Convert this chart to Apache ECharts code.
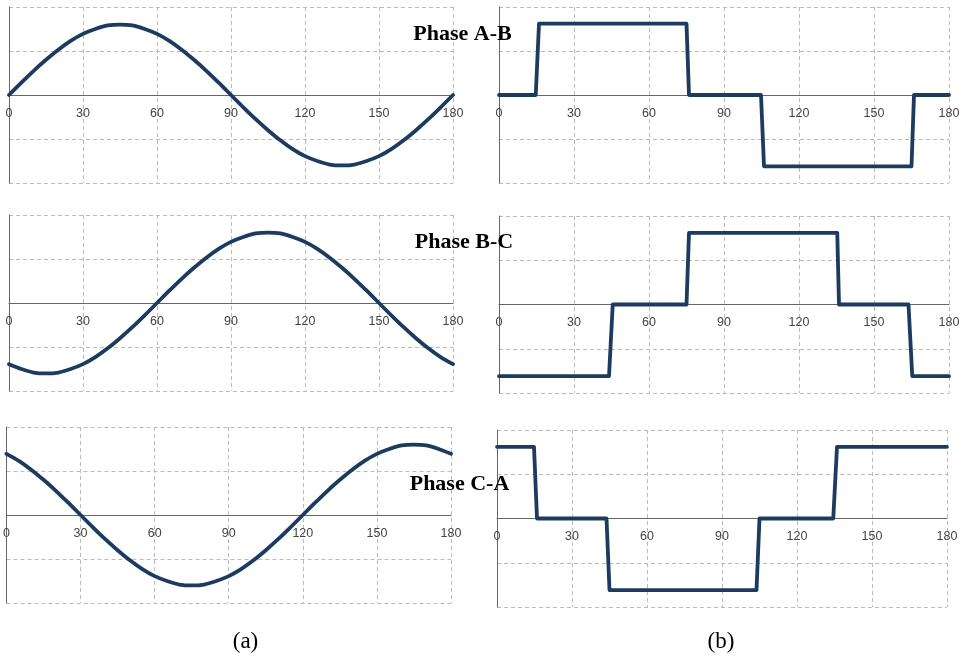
<!DOCTYPE html>
<html>
<head>
<meta charset="utf-8">
<script src="https://cdn.jsdelivr.net/npm/echarts@6/dist/echarts.min.js"></script>
<style>
html,body{margin:0;padding:0;background:#fff;}
#chart{width:967px;height:659px;}
</style>
</head>
<body>
<div id="chart"></div>
<script>
// Angle ticks (degrees)
const xTicks = [0, 30, 60, 90, 120, 150, 180];
// Sampled angles for the sine curves (every 5 degrees)
const sineAngles = [0,5,10,15,20,25,30,35,40,45,50,55,60,65,70,75,80,85,90,95,100,105,110,115,120,125,130,135,140,145,150,155,160,165,170,175,180];

// (a) line voltages
const sineAB = [0,0.28,0.55,0.80,1.03,1.23,1.39,1.50,1.58,1.60,1.58,1.50,1.39,1.23,1.03,0.80,0.55,0.28,0,
  -0.28,-0.55,-0.80,-1.03,-1.23,-1.39,-1.50,-1.58,-1.60,-1.58,-1.50,-1.39,-1.23,-1.03,-0.80,-0.55,-0.28,0];
const sineBC = [-1.39,-1.50,-1.58,-1.60,-1.58,-1.50,-1.39,-1.23,-1.03,-0.80,-0.55,-0.28,0,0.28,0.55,0.80,1.03,1.23,1.39,
  1.50,1.58,1.60,1.58,1.50,1.39,1.23,1.03,0.80,0.55,0.28,0,-0.28,-0.55,-0.80,-1.03,-1.23,-1.39];
const sineCA = [1.39,1.23,1.03,0.80,0.55,0.28,0,-0.28,-0.55,-0.80,-1.03,-1.23,-1.39,-1.50,-1.58,-1.60,-1.58,-1.50,-1.39,
  -1.23,-1.03,-0.80,-0.55,-0.28,0,0.28,0.55,0.80,1.03,1.23,1.39,1.50,1.58,1.60,1.58,1.50,1.39];

// (b) six-step line voltages: [angle, value]
const stepAB = [[0,0],[14.7,0],[16,1.62],[75,1.62],[76,0],[104.8,0],[106,-1.62],[165,-1.62],[166,0],[180,0]];
const stepBC = [[0,-1.62],[44,-1.62],[45.5,0],[75,0],[76,1.62],[135.3,1.62],[136,0],[163.8,0],[165.3,-1.62],[180,-1.62]];
const stepCA = [[0,1.62],[14.8,1.62],[16,0],[43.8,0],[45,-1.62],[103.8,-1.62],[105,0],[134.5,0],[136,1.62],[180,1.62]];

const phaseTitles = ['Phase A-B', 'Phase B-C', 'Phase C-A'];
const panelLabels = ['(a)', '(b)'];

const LINE = '#1d3a5f';
const grids = [
  {left: 9,   top: 7,   width: 444, height: 176},
  {left: 9,   top: 215, width: 444, height: 176},
  {left: 6,   top: 427, width: 445, height: 176},
  {left: 499, top: 7,   width: 450, height: 176},
  {left: 499, top: 216, width: 450, height: 177},
  {left: 497, top: 430, width: 450, height: 177}
];

const sinePairs = arr => sineAngles.map((a, i) => [a, arr[i]]);
const seriesData = [sinePairs(sineAB), sinePairs(sineBC), sinePairs(sineCA), stepAB, stepBC, stepCA];

// y range is symmetric (-2..2), so the zero line sits at mid-height of each grid
const xAxes = grids.map((g, i) => ({
  type: 'value', gridIndex: i, min: xTicks[0], max: xTicks[xTicks.length - 1], interval: 30,
  position: 'bottom', offset: -g.height / 2,
  axisLine: {show: true, onZero: false, lineStyle: {color: '#666', width: 1}},
  axisTick: {show: false},
  axisLabel: {show: true, margin: 12, color: '#444', fontSize: 12.5, fontFamily: 'Liberation Sans, Arial, sans-serif',
    showMinLabel: true, showMaxLabel: true},
  splitLine: {show: true, lineStyle: {color: '#bbb', type: [4, 3], width: 1}}
}));
const yAxes = grids.map((g, i) => ({
  type: 'value', gridIndex: i, min: -2, max: 2, interval: 1,
  axisLine: {show: true, onZero: false, lineStyle: {color: '#666', width: 1}},
  axisTick: {show: false},
  axisLabel: {show: false},
  splitLine: {show: true, lineStyle: {color: '#bbb', type: [4, 3], width: 1}}
}));
const series = seriesData.map((d, i) => ({
  type: 'line', xAxisIndex: i, yAxisIndex: i, data: d,
  smooth: i < 3 ? 0.25 : false, showSymbol: false, symbol: 'none', animation: false,
  lineStyle: {color: LINE, width: 3.8, join: 'round', cap: 'round'},
  z: 5
}));

const titlePos = [[462.5, 34.5], [464, 242], [459.5, 484]];
const graphics = phaseTitles.map((t, i) => ({
  type: 'text', z: 100, x: titlePos[i][0], y: titlePos[i][1],
  style: {text: t, fill: '#000', font: 'bold 22px "Liberation Serif", serif', textAlign: 'center', textVerticalAlign: 'middle'}
})).concat(panelLabels.map((t, i) => ({
  type: 'text', z: 100, x: i === 0 ? 245.5 : 721, y: 642,
  style: {text: t, fill: '#000', font: '23px "Liberation Serif", serif', textAlign: 'center', textVerticalAlign: 'middle'}
})));

const chart = echarts.init(document.getElementById('chart'), null, {renderer: 'canvas'});
chart.setOption({
  backgroundColor: '#fff',
  animation: false,
  grid: grids,
  xAxis: xAxes,
  yAxis: yAxes,
  series: series,
  graphic: graphics
});
</script>
</body>
</html>
